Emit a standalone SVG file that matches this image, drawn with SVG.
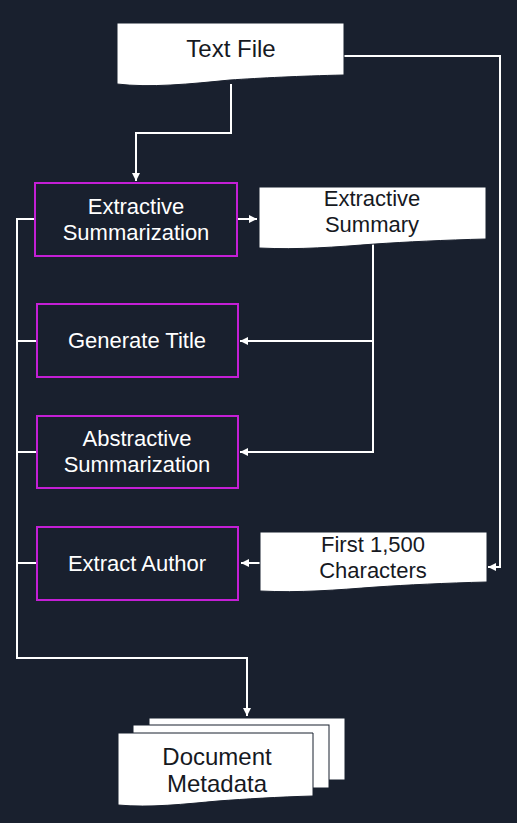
<svg xmlns="http://www.w3.org/2000/svg" width="517" height="823" viewBox="0 0 517 823">
<defs>
<style>
.bg{fill:#19202e}
.proc{fill:none;stroke:#c41fd6;stroke-width:2}
.doc{fill:#ffffff;stroke:#19202e;stroke-width:1}
.wt{fill:#ffffff;font-family:"Liberation Sans",Arial,sans-serif;font-size:22px;text-anchor:middle}
.dt{fill:#16191f;font-family:"Liberation Sans",Arial,sans-serif;font-size:22px;text-anchor:middle}
.big{font-size:24px}
.ln{fill:none;stroke:#ffffff;stroke-width:2}
</style>
<marker id="ah" markerWidth="10" markerHeight="10" refX="9" refY="5" orient="auto" markerUnits="userSpaceOnUse">
<path d="M1,1 L9,5 L1,9 Z" fill="#ffffff"/>
</marker>
</defs>
<rect class="bg" x="0" y="0" width="517" height="823"/>

<g id="connectors">
<path class="ln" d="M231,84 V133 H136 V181" marker-end="url(#ah)"/>
<path class="ln" d="M344,56 H500 V567 H488" marker-end="url(#ah)"/>
<path class="ln" d="M237,219 H257" marker-end="url(#ah)"/>
<path class="ln" d="M373,244 V452 H240" marker-end="url(#ah)"/>
<path class="ln" d="M373,341 H240" marker-end="url(#ah)"/>
<path class="ln" d="M260,563 H241" marker-end="url(#ah)"/>
<path class="ln" d="M35,219 H17 V658 H247 V716" marker-end="url(#ah)"/>
<path class="ln" d="M17,341 H37"/>
<path class="ln" d="M17,452 H37"/>
<path class="ln" d="M17,563 H36"/>
</g>

<g id="text-file">
<path class="doc" d="M117,23 H344 V75 C300,76 260,78 230,80 C190,84 150,88 117,84 Z"/>
<text class="dt big" x="231" y="57">Text File</text>
</g>

<g id="extractive-summarization">
<rect class="proc" x="35" y="183" width="202" height="73"/>
<text class="wt" x="136" y="214">Extractive</text>
<text class="wt" x="136" y="240">Summarization</text>
</g>

<g id="extractive-summary">
<path class="doc" d="M259,187 H486 V239 C445,240 405,242 375,244 C335,247 300,250 259,248 Z"/>
<text class="dt" x="372" y="206">Extractive</text>
<text class="dt" x="372" y="232">Summary</text>
</g>

<g id="generate-title">
<rect class="proc" x="37" y="304" width="201" height="73"/>
<text class="wt" x="137" y="348">Generate Title</text>
</g>

<g id="abstractive-summarization">
<rect class="proc" x="37" y="416" width="201" height="72"/>
<text class="wt" x="137" y="446">Abstractive</text>
<text class="wt" x="137" y="472">Summarization</text>
</g>

<g id="extract-author">
<rect class="proc" x="37" y="527" width="201" height="73"/>
<text class="wt" x="137" y="571">Extract Author</text>
</g>

<g id="first-1500-characters">
<path class="doc" d="M260,532 H487 V582 C446,583 406,585 376,587 C336,590 300,593 260,591 Z"/>
<text class="dt" x="373" y="552">First 1,500</text>
<text class="dt" x="373" y="578">Characters</text>
</g>

<g id="document-metadata">
<rect class="doc" x="149" y="718" width="196" height="62"/>
<rect class="doc" x="133" y="725" width="196" height="63"/>
<path class="doc" d="M118,733 H313 V796 C278,797 245,799 218,801 C185,804 150,808 118,805 Z"/>
<text class="dt big" x="217" y="765">Document</text>
<text class="dt big" x="217" y="792">Metadata</text>
</g>
</svg>
